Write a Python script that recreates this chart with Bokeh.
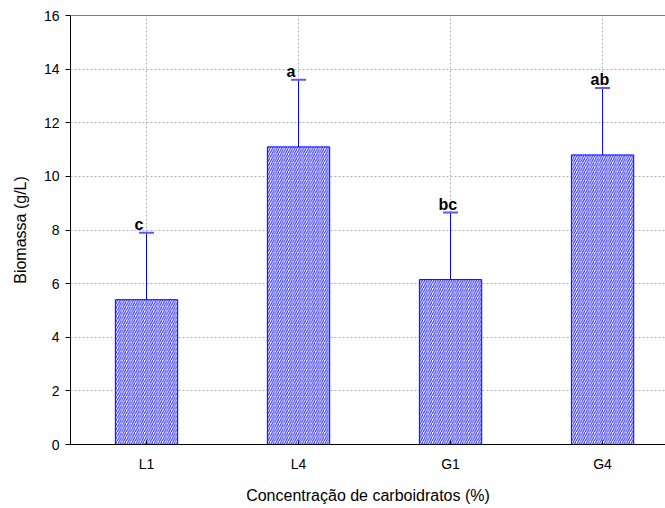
from bokeh.plotting import figure
from bokeh.models import (ColumnDataSource, Range1d, FixedTicker, Whisker, TeeHead,
                          Span, LabelSet)
from bokeh.core.properties import value
from bokeh.embed import file_html
from bokeh.resources import INLINE

# Biomass by carbohydrate concentration
categories = ["L1", "L4", "G1", "G4"]
biomass = [5.4, 11.1, 6.15, 10.8]
error = [2.5, 2.5, 2.5, 2.5]
letters = ["c", "a", "bc", "ab"]

xpos = list(range(1, len(categories) + 1))
src = ColumnDataSource(dict(
    x=xpos,
    top=biomass,
    upper=[b + e for b, e in zip(biomass, error)],
    lower=[b - e for b, e in zip(biomass, error)],
    letter=letters,
))

FONT = "Liberation Sans"

p = figure(width=665, height=508, output_backend="svg", toolbar_location=None,
           x_range=Range1d(0.5, 4.414), y_range=Range1d(0, 16),
           min_border_left=70, min_border_top=15, min_border_bottom=64,
           min_border_right=0)

p.vbar(x="x", top="top", bottom=0, width=0.41, source=src,
       fill_color="white", line_color="#0000ff", line_width=1,
       hatch_pattern="/", hatch_color="#2a2aff", hatch_scale=4.5, hatch_weight=1.1)

head_style = dict(size=15, line_color="#5a5aff", line_width=2)
p.add_layout(Whisker(source=src, base="x", upper="upper", lower="lower",
                     line_color="#0000ff", line_width=1,
                     upper_head=TeeHead(**head_style),
                     lower_head=TeeHead(**head_style)))

p.add_layout(LabelSet(x="x", y="upper", text="letter", source=src,
                      x_offset=-12, y_offset=0, text_align="left",
                      text_baseline="bottom", text_font=value(FONT),
                      text_font_style="bold", text_font_size="16px",
                      text_color="black"))

# top frame line
p.add_layout(Span(location=16, dimension="width", line_color="black", line_width=1))
p.outline_line_color = None

p.xaxis.ticker = FixedTicker(ticks=xpos)
p.xaxis.major_label_overrides = {x: c for x, c in zip(xpos, categories)}
p.yaxis.ticker = FixedTicker(ticks=list(range(0, 17, 2)))

p.xaxis.axis_label = "Concentração de carboidratos (%)"
p.yaxis.axis_label = "Biomassa (g/L)"

for ax in (p.xaxis, p.yaxis):
    ax.axis_line_color = "black"
    ax.major_tick_line_color = "black"
    ax.minor_tick_line_color = None
    ax.major_label_text_font = FONT
    ax.major_label_text_font_size = "14px"
    ax.major_label_text_color = "black"
    ax.axis_label_text_font = FONT
    ax.axis_label_text_font_size = "16px"
    ax.axis_label_text_font_style = "normal"
    ax.axis_label_text_color = "black"

p.xaxis.major_tick_in = 4
p.xaxis.major_tick_out = 0
p.xaxis.major_label_standoff = 11
p.xaxis.axis_label_standoff = 12
p.yaxis.major_tick_in = 0
p.yaxis.major_tick_out = 5
p.yaxis.major_label_standoff = 6
p.yaxis.axis_label_standoff = 12

for g in (p.xgrid, p.ygrid):
    g.grid_line_color = "#b0b0b0"
    g.grid_line_dash = "2 2"
    g.grid_line_width = 1

open("out.html", "w").write(file_html(p, INLINE))
